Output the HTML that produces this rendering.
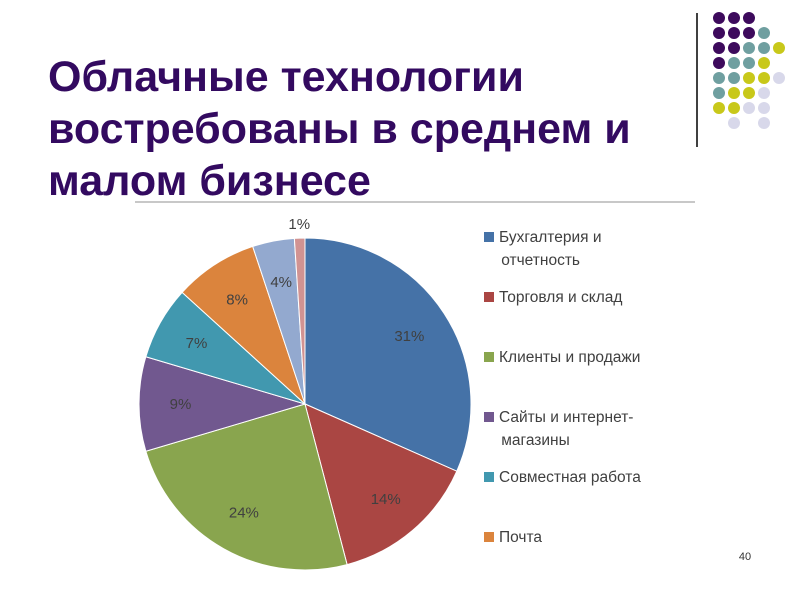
<!DOCTYPE html>
<html><head><meta charset="utf-8"><style>
body{margin:0;width:800px;height:600px;background:#fff;overflow:hidden;position:relative;font-family:"Liberation Sans",sans-serif}
#title{position:absolute;left:48px;top:51px;font-size:43px;font-weight:bold;color:#330a60;line-height:52px;margin:0;white-space:nowrap}
.leg{position:absolute;left:484px;font-size:15.5px;color:#404040;line-height:23px}
.leg span{display:inline-block;width:10px;height:10px;margin-right:5px;vertical-align:0px}
</style></head><body>
<svg width="800" height="600" style="position:absolute;left:0;top:0">
<line x1="697" y1="13" x2="697" y2="147" stroke="#000" stroke-width="1.5"/>
<g id="dots"></g>
<line x1="135" y1="202" x2="695" y2="202" stroke="#c8c8c8" stroke-width="2"/>
<g id="pie"></g>
<text x="745" y="560" font-size="11" text-anchor="middle" fill="#333" font-family="Liberation Sans">40</text>
</svg>
<div id="title">Облачные технологии<br>востребованы в среднем и<br>малом бизнесе</div>
<div class="leg" style="top:226px"><span style="background:#4572a7"></span>Бухгалтерия и<br>&nbsp;&nbsp;&nbsp;&nbsp;отчетность</div>
<div class="leg" style="top:286px"><span style="background:#aa4643"></span>Торговля и склад</div>
<div class="leg" style="top:346px"><span style="background:#89a54e"></span>Клиенты и продажи</div>
<div class="leg" style="top:406px"><span style="background:#71588f"></span>Сайты и интернет-<br>&nbsp;&nbsp;&nbsp;&nbsp;магазины</div>
<div class="leg" style="top:466px"><span style="background:#4198af"></span>Совместная работа</div>
<div class="leg" style="top:526px"><span style="background:#db843d"></span>Почта</div>
<script>
const categories=["Бухгалтерия и отчетность","Торговля и склад","Клиенты и продажи","Сайты и интернет-магазины","Совместная работа","Почта","Другое","Прочее"];
const values=[31,14,24,9,7,8,4,1];
const labels=["31%","14%","24%","9%","7%","8%","4%","1%"];
const colors=["#4572a7","#aa4643","#89a54e","#71588f","#4198af","#db843d","#93a9cf","#d19392"];
const NS="http://www.w3.org/2000/svg";
const pie=document.getElementById('pie');
const cx=305,cy=404,r=166;
const total=values.reduce((a,b)=>a+b,0);
let a0=0;
function pt(a,rr){return [cx+rr*Math.sin(a),cy-rr*Math.cos(a)];}
values.forEach((v,i)=>{
 const a1=a0+v/total*2*Math.PI;
 const p0=pt(a0,r),p1=pt(a1,r);
 const path=document.createElementNS(NS,'path');
 path.setAttribute('d',`M${cx},${cy}L${p0[0]},${p0[1]}A${r},${r} 0 ${a1-a0>Math.PI?1:0} 1 ${p1[0]},${p1[1]}Z`);
 path.setAttribute('fill',colors[i]);path.setAttribute('stroke','#fff');path.setAttribute('stroke-width','1');
 
 
 pie.appendChild(path);
 const am=(a0+a1)/2;
 const lp=v<2?pt(am,r+14):pt(am,r*0.75);
 const t=document.createElementNS(NS,'text');
 t.setAttribute('x',lp[0]);t.setAttribute('y',lp[1]+5);t.setAttribute('text-anchor','middle');
 t.setAttribute('font-size','15');t.setAttribute('font-family','Liberation Sans');t.setAttribute('fill','#404040');
 t.textContent=labels[i];
 
 
 pie.appendChild(t);
 a0=a1;
});
const grid=["PPP","PPPT","PPTTY","PTTY","TTYYL","TYYL","YYLL","_L_L"];
const dc={P:"#3d0a5c",T:"#6f9fa0",Y:"#c8c81a",L:"#d8d8ea"};
const dots=document.getElementById('dots');
grid.forEach((row,ri)=>{[...row].forEach((c,ci)=>{if(c==='_')return;
 const e=document.createElementNS(NS,'circle');
 e.setAttribute('cx',719+ci*15);e.setAttribute('cy',18+ri*15);e.setAttribute('r',6);e.setAttribute('fill',dc[c]);
 
 
 dots.appendChild(e);});});
</script>
</body></html>
